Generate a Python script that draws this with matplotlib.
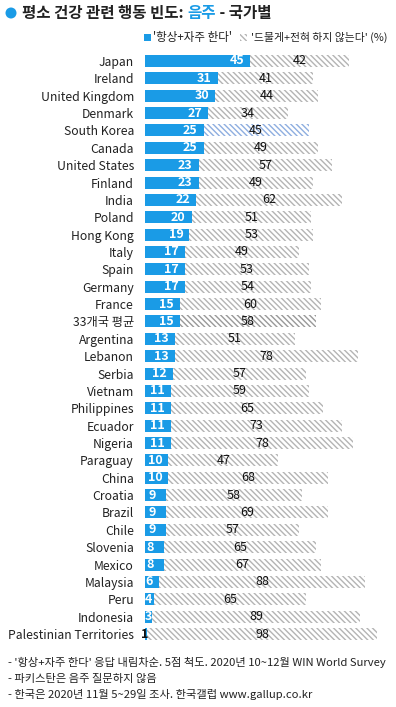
import matplotlib
matplotlib.use('Agg')
import matplotlib.pyplot as plt
from matplotlib.patches import Rectangle, Ellipse

plt.rcParams['font.family'] = ['Noto Sans CJK KR', 'DejaVu Sans']
plt.rcParams['hatch.linewidth'] = 1.0

countries = ['Japan', 'Ireland', 'United Kingdom', 'Denmark', 'South Korea', 'Canada',
             'United States', 'Finland', 'India', 'Poland', 'Hong Kong', 'Italy', 'Spain',
             'Germany', 'France', '33개국 평균', 'Argentina', 'Lebanon', 'Serbia', 'Vietnam',
             'Philippines', 'Ecuador', 'Nigeria', 'Paraguay', 'China', 'Croatia', 'Brazil',
             'Chile', 'Slovenia', 'Mexico', 'Malaysia', 'Peru', 'Indonesia',
             'Palestinian Territories']
often = [45, 31, 30, 27, 25, 25, 23, 23, 22, 20, 19, 17, 17, 17, 15, 15, 13, 13, 12, 11,
         11, 11, 11, 10, 10, 9, 9, 9, 8, 8, 6, 4, 3, 1]
rarely = [42, 41, 44, 34, 45, 49, 57, 49, 62, 51, 53, 49, 53, 54, 60, 58, 51, 78, 57, 59,
          65, 73, 78, 47, 68, 58, 69, 57, 65, 67, 88, 65, 89, 98]

blue = '#1a9be6'
hatch_gray = '#b4b4b4'
hatch_korea = '#8eaee0'
hatch_avg = '#999999'
txt = '#222222'
HATCH = '\\' * 6

W, H = 396, 707
fig = plt.figure(figsize=(W / 100, H / 100), dpi=100)
ax = fig.add_axes([145 / W, 1 - 642.7 / H, 234 / W, (642.7 - 52.3) / H])

y = list(range(len(countries)))
ax.barh(y, often, height=0.69, color=blue, linewidth=0)
for i, c in enumerate(countries):
    hc = hatch_gray
    if c == 'South Korea':
        hc = hatch_korea
    elif c == '33개국 평균':
        hc = hatch_avg
    ax.barh(i, rarely[i], left=often[i], height=0.69, facecolor='white',
            edgecolor=hc, hatch=HATCH, linewidth=0)

for i, (a, b) in enumerate(zip(often, rarely)):
    if a >= 2:
        ax.text(max(a - 5.8, 1.6), i, str(a), ha='center', va='center', fontsize=9,
                color='white', fontweight='bold', clip_on=True)
    else:
        ax.text(0, i, str(a), ha='center', va='center', fontsize=9,
                color='#111111', fontweight='bold', clip_on=False)
    ax.text(a + b / 2, i, str(b), ha='center', va='center', fontsize=9, color='#111111')

ax.set_xlim(0, 100)
ax.set_ylim(len(countries) - 0.5, -0.5)
ax.set_yticks(y)
ax.set_yticklabels(countries, fontsize=8.8, color=txt)
ax.tick_params(axis='y', length=0, pad=8)
ax.set_xticks([])
for s in ax.spines.values():
    s.set_visible(False)

# title
fig.patches.append(Ellipse((11 / W, 1 - 13 / H), 11 / W, 11 / H, transform=fig.transFigure,
                           color=blue, ec='none'))
fig.canvas.draw()
r = fig.canvas.get_renderer()
parts = [('평소 건강 관련 행동 빈도: ', txt), ('음주', blue), (' - 국가별', txt)]
x = 22 / W
for s, col in parts:
    t = fig.text(x, 1 - 13 / H, s, fontsize=11.2, fontweight='bold', color=col,
                 va='center', ha='left')
    bb = t.get_window_extent(renderer=r)
    x += bb.width / W

# legend
fig.patches.append(Rectangle((144 / W, 1 - 41 / H), 7 / W, 7 / H,
                             transform=fig.transFigure, color=blue, lw=0))
fig.text(153 / W, 1 - 37.5 / H, "'항상+자주 한다'", fontsize=8.3, color=txt, va='center')
fig.patches.append(Rectangle((240 / W, 1 - 41 / H), 7 / W, 7 / H,
                             transform=fig.transFigure, facecolor='white',
                             edgecolor=hatch_gray, hatch=HATCH, lw=0))
fig.text(251 / W, 1 - 37.5 / H, "'드물게+전혀 하지 않는다' (%)", fontsize=7.8, color=txt,
         va='center')

# notes
notes = ["- '항상+자주 한다' 응답 내림차순. 5점 척도. 2020년 10~12월 WIN World Survey",
         "- 파키스탄은 음주 질문하지 않음",
         "- 한국은 2020년 11월 5~29일 조사. 한국갤럽 www.gallup.co.kr"]
for k, n in enumerate(notes):
    fig.text(8 / W, 1 - (662 + 16.5 * k) / H, n, fontsize=8.1, color=txt, va='center')

fig.savefig('out.png', dpi=100)
